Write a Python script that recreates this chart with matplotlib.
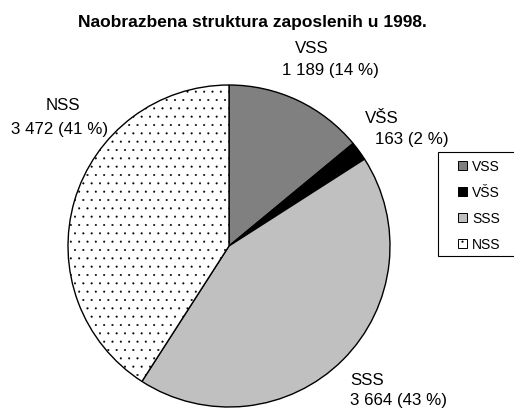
import matplotlib
matplotlib.use("Agg")
import matplotlib.pyplot as plt
from matplotlib.patches import Rectangle

plt.rcParams['font.family'] = ['Liberation Sans', 'DejaVu Sans']
plt.rcParams['hatch.linewidth'] = 0.25

categories = ['VSS', 'VŠS', 'SSS', 'NSS']
values = [1189, 163, 3664, 3472]
percents = [14, 2, 43, 41]
value_labels = ['1 189', '163', '3 664', '3 472']
title = 'Naobrazbena struktura zaposlenih u 1998.'

colors = ['#808080', '#000000', '#c0c0c0', '#ffffff']
hatches = [None, None, None, '..']

fig = plt.figure(figsize=(5.14, 4.10), dpi=100)
W, H = 514, 410
# pie centre and radius in pixels
cx, cy, r = 229, 247, 161
ax = fig.add_axes([(cx - r) / W, 1 - (cy + r) / H, 2 * r / W, 2 * r / H])
wedges, _ = ax.pie(values, colors=colors, startangle=90, counterclock=False,
                   wedgeprops=dict(edgecolor='black', linewidth=1.0))
for w, h in zip(wedges, hatches):
    if h:
        w.set_hatch(h)
ax.set_aspect('equal')
ax.set_xlim(-1, 1)
ax.set_ylim(-1, 1)

fig.text(252 / W, 1 - 27 / H, title, ha='center', va='baseline',
         fontsize=12.5, fontweight='bold')

fs = 12.2
def lbl(x, y, s, ha='center'):
    fig.text(x / W, 1 - y / H, s, ha=ha, va='baseline', fontsize=fs)

lbl(312, 53, categories[0])
lbl(330, 75, f'{value_labels[0]} ({percents[0]} %)')
lbl(382, 123, categories[1])
lbl(412, 144, f'{value_labels[1]} ({percents[1]} %)')
lbl(350, 385, categories[2], ha='left')
lbl(350, 405, f'{value_labels[2]} ({percents[2]} %)', ha='left')
lbl(63, 110, categories[3])
lbl(60, 134, f'{value_labels[3]} ({percents[3]} %)')

# legend (frame extends past the right edge as in the reference)
fig.patches.append(Rectangle((438 / W, 1 - 257 / H), 100 / W, 104 / H,
                             transform=fig.transFigure, facecolor='white',
                             edgecolor='black', linewidth=0.8, zorder=1))
row_y = [166, 192, 218, 244]
for cat, c, h, yy in zip(categories, colors, hatches, row_y):
    fig.patches.append(Rectangle((458 / W, 1 - (yy + 4.5) / H), 9 / W, 9 / H,
                                 transform=fig.transFigure, facecolor=c,
                                 edgecolor='black', linewidth=0.7, hatch=h,
                                 zorder=2))
    fig.text(472 / W, 1 - (yy + 5) / H, cat, ha='left', va='baseline',
             fontsize=10, zorder=3)

fig.savefig('out.png', dpi=100)
